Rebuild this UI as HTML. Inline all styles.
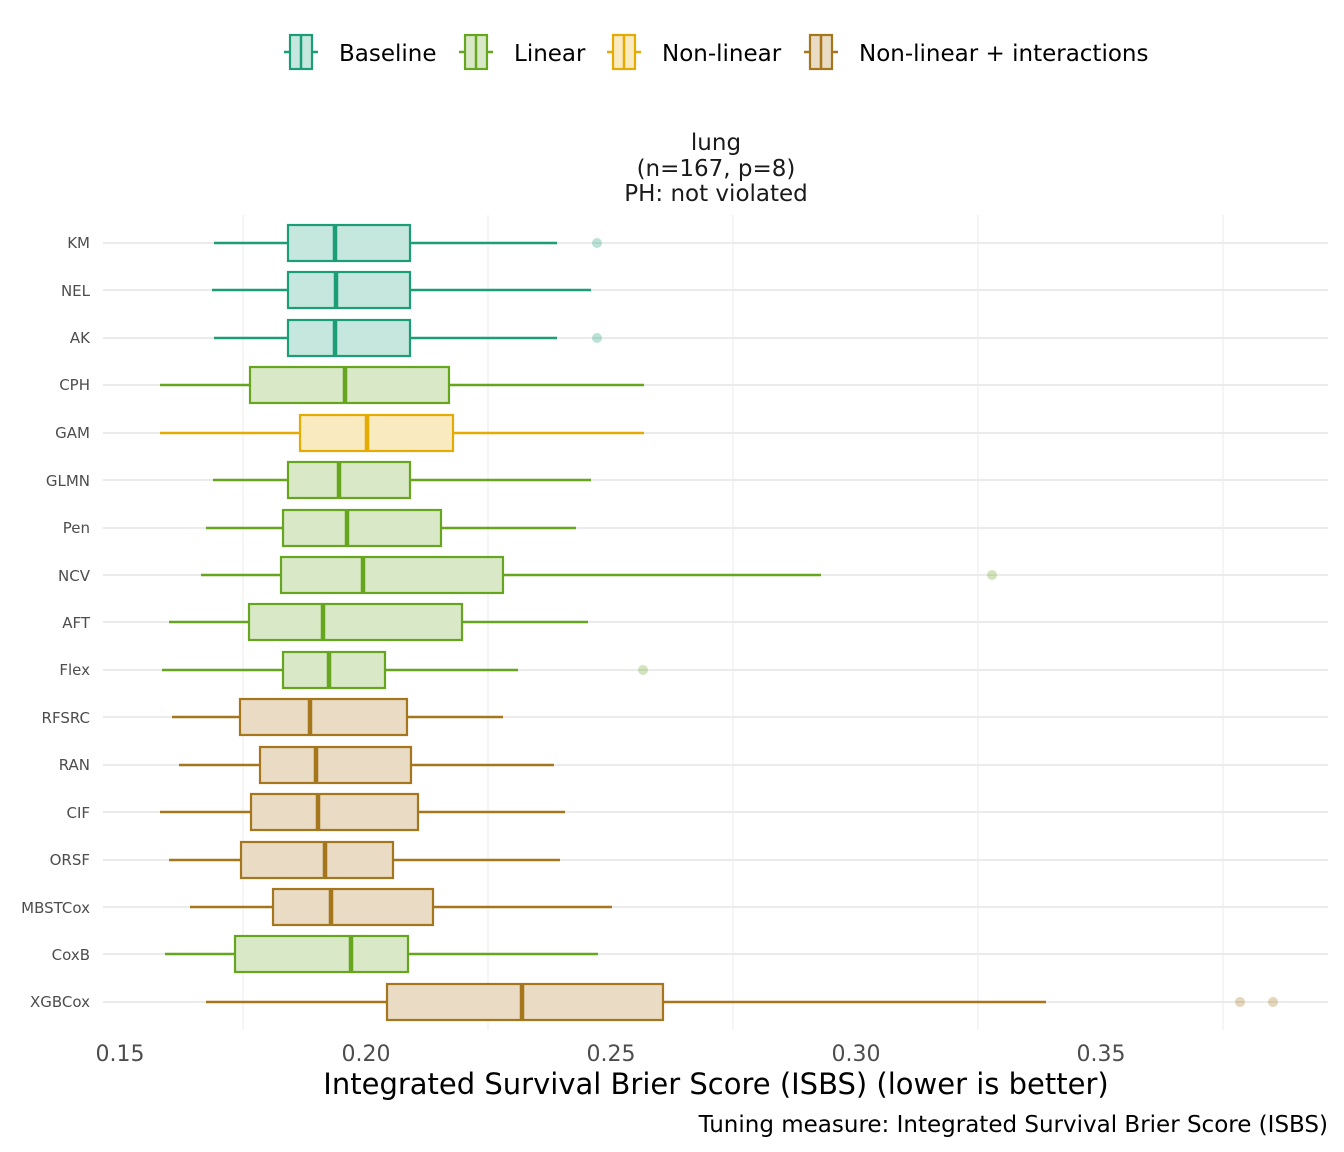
<!DOCTYPE html>
<html><head><meta charset="utf-8"><style>body{margin:0;background:#fff}svg{display:block;font-family:"DejaVu Sans","Liberation Sans",sans-serif}</style></head><body>
<svg width="1344" height="1152" viewBox="0 0 1344 1152">
<rect width="1344" height="1152" fill="#fff"/>
<g stroke="#ebebeb" stroke-width="1"><line x1="243" y1="215" x2="243" y2="1030"/><line x1="488" y1="215" x2="488" y2="1030"/><line x1="733" y1="215" x2="733" y2="1030"/><line x1="978" y1="215" x2="978" y2="1030"/><line x1="1223" y1="215" x2="1223" y2="1030"/></g>
<g stroke="#ebebeb" stroke-width="2">
<line x1="103" x2="1328" y1="243" y2="243"/><line x1="103" x2="1328" y1="290" y2="290"/><line x1="103" x2="1328" y1="338" y2="338"/><line x1="103" x2="1328" y1="385" y2="385"/><line x1="103" x2="1328" y1="433" y2="433"/><line x1="103" x2="1328" y1="480" y2="480"/><line x1="103" x2="1328" y1="528" y2="528"/><line x1="103" x2="1328" y1="575" y2="575"/><line x1="103" x2="1328" y1="622" y2="622"/><line x1="103" x2="1328" y1="670" y2="670"/><line x1="103" x2="1328" y1="717" y2="717"/><line x1="103" x2="1328" y1="765" y2="765"/><line x1="103" x2="1328" y1="812" y2="812"/><line x1="103" x2="1328" y1="860" y2="860"/><line x1="103" x2="1328" y1="907" y2="907"/><line x1="103" x2="1328" y1="954" y2="954"/><line x1="103" x2="1328" y1="1002" y2="1002"/>
</g>
<g font-size="15" fill="#4d4d4d" text-anchor="end">
<text x="90" y="248">KM</text><text x="90" y="296">NEL</text><text x="90" y="343">AK</text><text x="90" y="390">CPH</text><text x="90" y="438">GAM</text><text x="90" y="486">GLMN</text><text x="90" y="533">Pen</text><text x="90" y="581">NCV</text><text x="90" y="628">AFT</text><text x="90" y="675">Flex</text><text x="90" y="723">RFSRC</text><text x="90" y="770">RAN</text><text x="90" y="818">CIF</text><text x="90" y="865">ORSF</text><text x="90" y="913">MBSTCox</text><text x="90" y="960">CoxB</text><text x="90" y="1007">XGBCox</text>
</g>
<!-- Baseline -->
<g stroke="#1b9e77" stroke-width="2.5" fill="#c6e7dd">
<line x1="214" x2="557" y1="243" y2="243"/><rect x="288" y="225" width="122" height="36" stroke-width="2.2"/><line x1="335" x2="335" y1="225" y2="261" stroke-width="4.5"/>
<line x1="212" x2="591" y1="290" y2="290"/><rect x="288" y="272" width="122" height="36" stroke-width="2.2"/><line x1="336" x2="336" y1="272" y2="308" stroke-width="4.5"/>
<line x1="214" x2="557" y1="338" y2="338"/><rect x="288" y="320" width="122" height="36" stroke-width="2.2"/><line x1="335" x2="335" y1="320" y2="356" stroke-width="4.5"/>
</g>
<g fill="#1b9e77" fill-opacity="0.3"><circle cx="597" cy="243" r="5"/><circle cx="597" cy="338" r="5"/></g>
<!-- Linear -->
<g stroke="#66a61e" stroke-width="2.5" fill="#d9e8c7">
<line x1="160" x2="644" y1="385" y2="385"/><rect x="250" y="367" width="199" height="36" stroke-width="2.2"/><line x1="345" x2="345" y1="367" y2="403" stroke-width="4.5"/>
<line x1="213" x2="591" y1="480" y2="480"/><rect x="288" y="462" width="122" height="36" stroke-width="2.2"/><line x1="339" x2="339" y1="462" y2="498" stroke-width="4.5"/>
<line x1="206" x2="576" y1="528" y2="528"/><rect x="283" y="510" width="158" height="36" stroke-width="2.2"/><line x1="347" x2="347" y1="510" y2="546" stroke-width="4.5"/>
<line x1="201" x2="821" y1="575" y2="575"/><rect x="281" y="557" width="222" height="36" stroke-width="2.2"/><line x1="363" x2="363" y1="557" y2="593" stroke-width="4.5"/>
<line x1="169" x2="588" y1="622" y2="622"/><rect x="249" y="604" width="213" height="36" stroke-width="2.2"/><line x1="323" x2="323" y1="604" y2="640" stroke-width="4.5"/>
<line x1="162" x2="518" y1="670" y2="670"/><rect x="283" y="652" width="102" height="36" stroke-width="2.2"/><line x1="329" x2="329" y1="652" y2="688" stroke-width="4.5"/>
<line x1="165" x2="598" y1="954" y2="954"/><rect x="235" y="936" width="173" height="36" stroke-width="2.2"/><line x1="351" x2="351" y1="936" y2="972" stroke-width="4.5"/>
</g>
<g fill="#66a61e" fill-opacity="0.3"><circle cx="992" cy="575" r="5"/><circle cx="643" cy="670" r="5"/></g>
<!-- Non-linear -->
<g stroke="#e6ab02" stroke-width="2.5" fill="#f9eac0">
<line x1="160" x2="644" y1="433" y2="433"/><rect x="300" y="415" width="153" height="36" stroke-width="2.2"/><line x1="367" x2="367" y1="415" y2="451" stroke-width="4.5"/>
</g>
<!-- Non-linear + interactions -->
<g stroke="#a6761d" stroke-width="2.5" fill="#e9dbc4">
<line x1="172" x2="503" y1="717" y2="717"/><rect x="240" y="699" width="167" height="36" stroke-width="2.2"/><line x1="310" x2="310" y1="699" y2="735" stroke-width="4.5"/>
<line x1="179" x2="554" y1="765" y2="765"/><rect x="260" y="747" width="151" height="36" stroke-width="2.2"/><line x1="316" x2="316" y1="747" y2="783" stroke-width="4.5"/>
<line x1="160" x2="565" y1="812" y2="812"/><rect x="251" y="794" width="167" height="36" stroke-width="2.2"/><line x1="318" x2="318" y1="794" y2="830" stroke-width="4.5"/>
<line x1="169" x2="560" y1="860" y2="860"/><rect x="241" y="842" width="152" height="36" stroke-width="2.2"/><line x1="325" x2="325" y1="842" y2="878" stroke-width="4.5"/>
<line x1="190" x2="612" y1="907" y2="907"/><rect x="273" y="889" width="160" height="36" stroke-width="2.2"/><line x1="331" x2="331" y1="889" y2="925" stroke-width="4.5"/>
<line x1="206" x2="1046" y1="1002" y2="1002"/><rect x="387" y="984" width="276" height="36" stroke-width="2.2"/><line x1="522" x2="522" y1="984" y2="1020" stroke-width="4.5"/>
</g>
<g fill="#a6761d" fill-opacity="0.3"><circle cx="1240" cy="1002" r="5"/><circle cx="1273" cy="1002" r="5"/></g>
<g font-size="22" fill="#4d4d4d" text-anchor="middle"><text x="120" y="1061">0.15</text><text x="366" y="1061">0.20</text><text x="611" y="1061">0.25</text><text x="856" y="1061">0.30</text><text x="1101" y="1061">0.35</text></g>
<text x="716" y="1094" font-size="29" text-anchor="middle" fill="#000">Integrated Survival Brier Score (ISBS) (lower is better)</text>
<text x="1328" y="1132" font-size="23" text-anchor="end" fill="#000">Tuning measure: Integrated Survival Brier Score (ISBS)</text>
<g font-size="23" text-anchor="middle" fill="#1a1a1a"><text x="716" y="150">lung</text><text x="716" y="176">(n=167, p=8)</text><text x="716" y="201">PH: not violated</text></g>
<g font-size="23" fill="#000">
<g stroke="#1b9e77" stroke-width="2.5" fill="#c6e7dd"><line x1="284" x2="318" y1="52" y2="52"/><rect x="290" y="35" width="22" height="34" stroke-width="2.2"/><line x1="301" x2="301" y1="35" y2="69"/></g><text x="339" y="61">Baseline</text>
<g stroke="#66a61e" stroke-width="2.5" fill="#d9e8c7"><line x1="459" x2="493" y1="52" y2="52"/><rect x="465" y="35" width="22" height="34" stroke-width="2.2"/><line x1="476" x2="476" y1="35" y2="69"/></g><text x="514" y="61">Linear</text>
<g stroke="#e6ab02" stroke-width="2.5" fill="#f9eac0"><line x1="607" x2="641" y1="52" y2="52"/><rect x="613" y="35" width="22" height="34" stroke-width="2.2"/><line x1="624" x2="624" y1="35" y2="69"/></g><text x="662" y="61">Non-linear</text>
<g stroke="#a6761d" stroke-width="2.5" fill="#e9dbc4"><line x1="804" x2="838" y1="52" y2="52"/><rect x="810" y="35" width="22" height="34" stroke-width="2.2"/><line x1="821" x2="821" y1="35" y2="69"/></g><text x="859" y="61">Non-linear + interactions</text>
</g>
</svg></body></html>
